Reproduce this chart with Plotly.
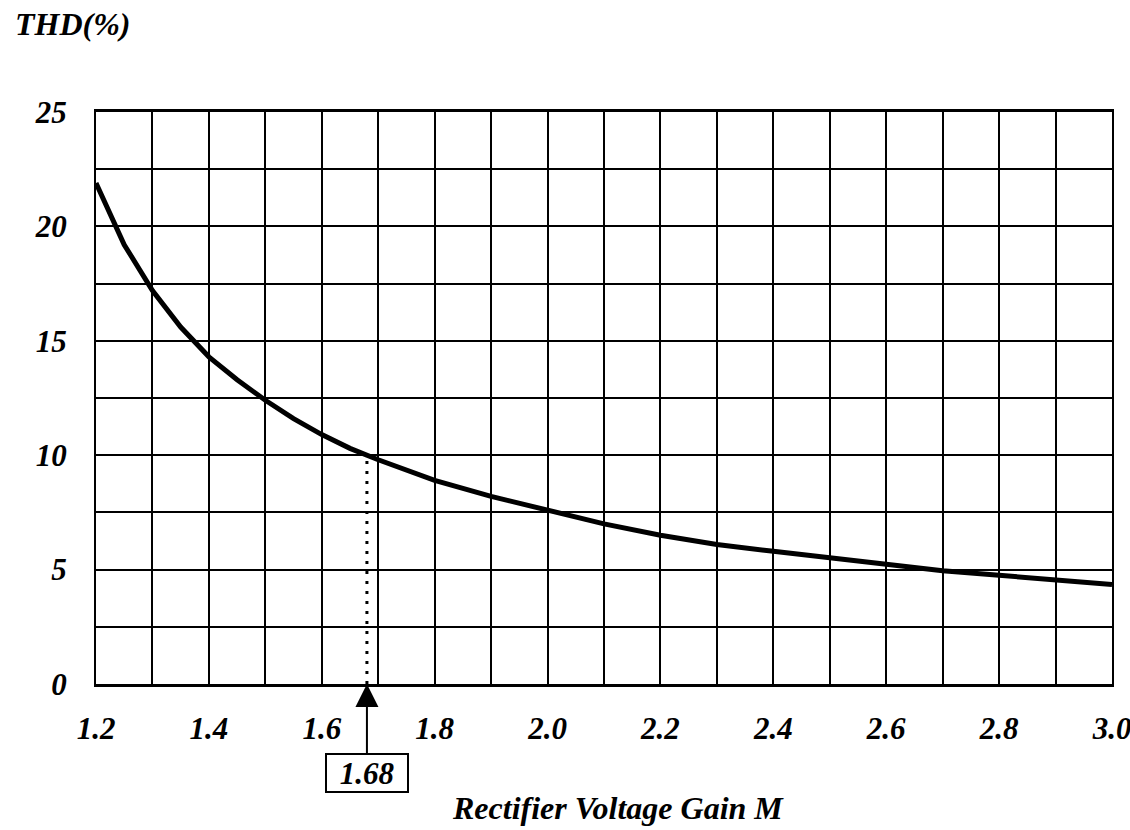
import numpy as np
import plotly.graph_objects as go

# Rectifier voltage gain M and resulting total harmonic distortion
gain_m = [1.20, 1.25, 1.30, 1.35, 1.40, 1.45, 1.50, 1.55, 1.60, 1.65, 1.70,
          1.80, 1.90, 2.00, 2.10, 2.20, 2.30, 2.40, 2.50, 2.60, 2.70, 2.80, 2.90, 3.00]
thd_pct = [21.9, 19.2, 17.2, 15.6, 14.3, 13.3, 12.4, 11.6, 10.9, 10.3, 9.8,
           8.9, 8.2, 7.6, 7.0, 6.5, 6.1, 5.8, 5.5, 5.2, 4.95, 4.75, 4.55, 4.35]

marker_m = 1.68

x_grid = [round(1.2 + 0.1 * i, 1) for i in range(19)]
x_labels = [f"{v:.1f}" if i % 2 == 0 else "" for i, v in enumerate(x_grid)]
y_grid = [2.5 * i for i in range(11)]
y_labels = [f"{v:g}" if i % 2 == 0 else "" for i, v in enumerate(y_grid)]

FONT = "Liberation Serif"
font_tick = dict(family=FONT, size=31, color="black", weight="bold", style="italic")
font_title = dict(family=FONT, size=32, color="black", weight="bold", style="italic")

W, H = 1130, 830
ML, MR, MT, MB = 96, 18, 112, 146
plot_w = W - ML - MR
plot_h = H - MT - MB

marker_thd = float(np.interp(marker_m, gain_m, thd_pct))

fig = go.Figure()

# dotted drop line from the curve to the axis at the marked gain
fig.add_trace(go.Scatter(
    x=[marker_m, marker_m], y=[0, marker_thd], mode="lines",
    line=dict(color="black", width=3, dash="3px,7px"),
    hoverinfo="skip", showlegend=False,
))

fig.add_trace(go.Scatter(
    x=gain_m, y=thd_pct, mode="lines",
    line=dict(color="black", width=5),
    showlegend=False,
))

fig.update_xaxes(
    range=[1.2, 3.0], tickvals=x_grid, ticktext=x_labels,
    showgrid=True, gridcolor="black", gridwidth=2,
    showline=True, linecolor="black", linewidth=3, mirror=True,
    ticks="outside", ticklen=15, tickcolor="rgba(0,0,0,0)",
    tickfont=font_tick, zeroline=False, automargin=False,
    ticklabeloverflow="allow",
)
fig.update_yaxes(
    range=[0, 25], tickvals=y_grid, ticktext=y_labels,
    showgrid=True, gridcolor="black", gridwidth=2,
    showline=True, linecolor="black", linewidth=2, mirror=True,
    ticks="outside", ticklen=21, tickcolor="rgba(0,0,0,0)",
    tickfont=font_tick, zeroline=False, automargin=False,
    ticklabeloverflow="allow",
)

# boxed label with arrow pointing at the marked gain
fig.add_annotation(
    x=marker_m, y=0, xref="x", yref="y",
    text=f"{marker_m:.2f}", font=font_tick,
    showarrow=True, arrowhead=2, arrowsize=2.3, arrowwidth=2, arrowcolor="black",
    ax=0, ay=89, standoff=0,
    bordercolor="black", borderwidth=2, borderpad=1, bgcolor="white",
    width=78, height=34,
)

# axis titles, positioned in pixels relative to the plot area
fig.add_annotation(
    x=(13 - ML) / plot_w, y=1 + (MT - 24) / plot_h, xref="paper", yref="paper",
    xanchor="left", yanchor="middle",
    text="THD(%)", showarrow=False, font=font_title,
)
fig.add_annotation(
    x=(618 - ML) / plot_w, y=-(808 - (H - MB)) / plot_h, xref="paper", yref="paper",
    xanchor="center", yanchor="middle",
    text="Rectifier Voltage Gain M", showarrow=False, font=font_title,
)

fig.update_layout(
    width=W, height=H,
    margin=dict(l=ML, r=MR, t=MT, b=MB),
    paper_bgcolor="white", plot_bgcolor="white",
)

fig.write_html("out.html")
